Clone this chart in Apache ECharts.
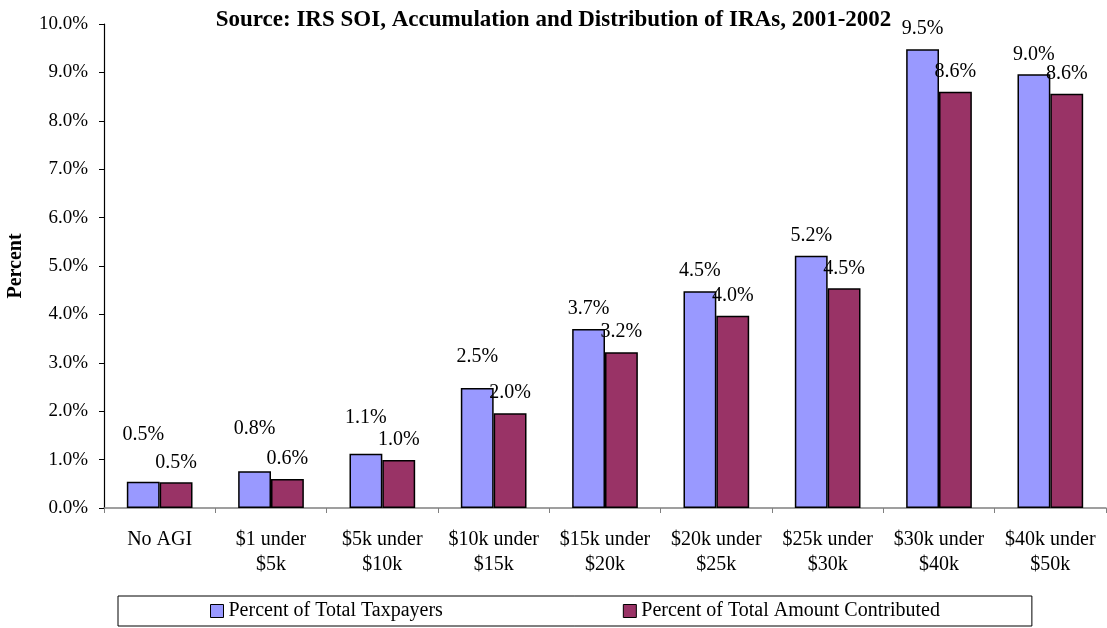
<!DOCTYPE html>
<html>
<head>
<meta charset="utf-8">
<script src="https://cdn.jsdelivr.net/npm/echarts@6/dist/echarts.min.js"></script>
<style>
    html, body { margin: 0; padding: 0; background: #fff; }
    #chart { width: 1107px; height: 628px; }
</style>
</head>
<body>
<div id="chart"></div>
<script>
var brackets = ["No AGI", "$1 under\n$5k", "$5k under\n$10k", "$10k under\n$15k", "$15k under\n$20k",
    "$20k under\n$25k", "$25k under\n$30k", "$30k under\n$40k", "$40k under\n$50k"];
var taxpayers = [0.54, 0.76, 1.12, 2.48, 3.70, 4.48, 5.21, 9.48, 8.96];
var contributed = [0.53, 0.60, 0.99, 1.96, 3.22, 3.97, 4.54, 8.60, 8.56];
var seriesNames = ["Percent of Total Taxpayers", "Percent of Total Amount Contributed"];

// extra lift of the blue labels on the small bars, as in the original
var blueLift = [27, 22, 16, 11, 0, 0, 0, 0, 0];

var serif = "'Liberation Serif', 'Times New Roman', serif";
var myChart = echarts.init(document.getElementById('chart'));

function pct(v) {
    return v.toFixed(1) + '%';
}

myChart.setOption({
    animation: false,
    textStyle: { fontFamily: serif, color: '#000' },
    title: {
        text: "Source: IRS SOI, Accumulation and Distribution of IRAs, 2001-2002",
        left: 'center',
        top: 4,
        textStyle: { fontFamily: serif, fontSize: 23, fontWeight: 'bold', color: '#000' }
    },
    legend: {
        data: seriesNames,
        left: 118,
        top: 596,
        padding: [5, 92, 5, 92],
        itemGap: 180,
        itemWidth: 13,
        itemHeight: 13,
        icon: 'rect',
        itemStyle: { borderColor: '#000', borderWidth: 1 },
        borderColor: '#000',
        borderWidth: 1,
        selectedMode: false,
        textStyle: { fontFamily: serif, fontSize: 20, color: '#000' }
    },
    grid: { left: 104, right: 1, top: 24, bottom: 120, containLabel: false, outerBoundsMode: 'none' },
    xAxis: {
        type: 'category',
        data: brackets,
        axisLine: { lineStyle: { color: '#808080', width: 1.5 } },
        axisTick: { show: true, length: 5, alignWithLabel: false, lineStyle: { color: '#808080' } },
        axisLabel: {
            interval: 0,
            margin: 19,
            fontFamily: serif,
            fontSize: 20,
            lineHeight: 25,
            color: '#000'
        }
    },
    yAxis: {
        type: 'value',
        min: 0,
        max: 10,
        interval: 1,
        name: 'Percent',
        nameLocation: 'middle',
        nameGap: 78,
        nameTextStyle: { fontFamily: serif, fontSize: 20, fontWeight: 'bold', color: '#000' },
        axisLine: { show: true, lineStyle: { color: '#000', width: 1.2 } },
        axisTick: { show: true, length: 5, lineStyle: { color: '#000' } },
        splitLine: { show: false },
        axisLabel: {
            margin: 16,
            fontFamily: serif,
            fontSize: 19,
            color: '#000',
            formatter: pct
        }
    },
    series: [
        {
            name: seriesNames[0],
            type: 'bar',
            barGap: '0%',
            barCategoryGap: '41%',
            itemStyle: { color: '#9999FF', borderColor: '#000', borderWidth: 1.5 },
            label: {
                show: true,
                position: 'top',
                distance: 10,
                fontFamily: serif,
                fontSize: 20,
                color: '#000',
                formatter: function (p) { return pct(p.value); }
            },
            data: taxpayers.map(function (v, i) {
                return { value: v, label: { offset: [0, -blueLift[i]] } };
            })
        },
        {
            name: seriesNames[1],
            type: 'bar',
            barGap: '0%',
            barCategoryGap: '41%',
            itemStyle: { color: '#993366', borderColor: '#000', borderWidth: 1.5 },
            label: {
                show: true,
                position: 'top',
                distance: 10,
                fontFamily: serif,
                fontSize: 20,
                color: '#000',
                formatter: function (p) { return pct(p.value); }
            },
            data: contributed
        }
    ]
});

window.onresize = function () {
    myChart.resize();
}
</script>
</body>
</html>
